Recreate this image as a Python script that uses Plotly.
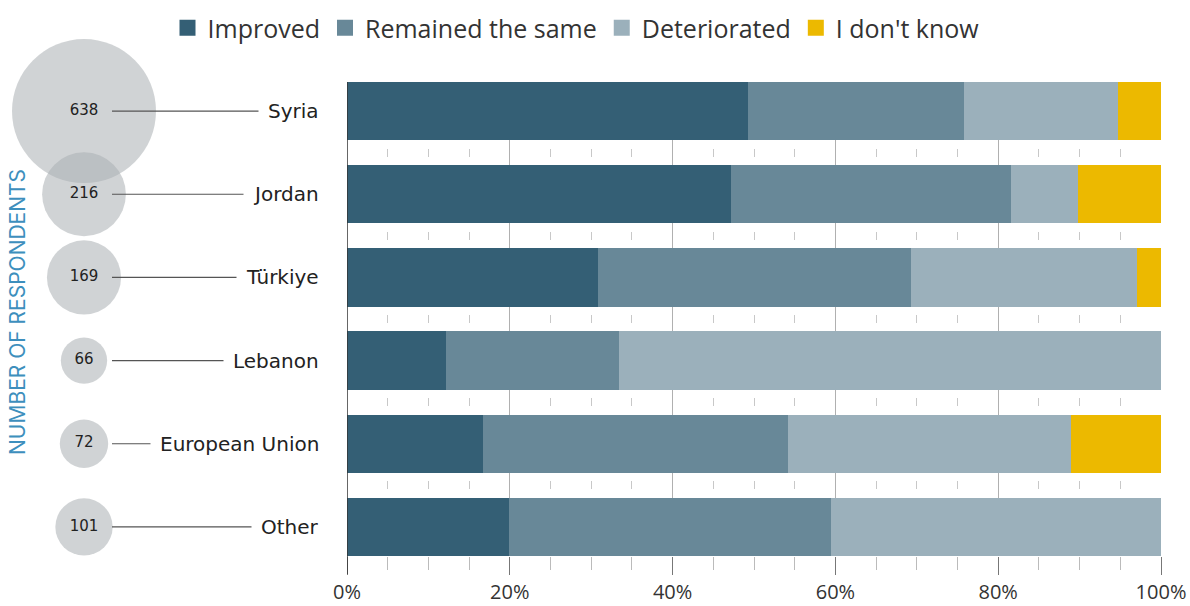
import plotly.graph_objects as go

countries = ["Syria", "Jordan", "Türkiye", "Lebanon", "European Union", "Other"]
respondents = [638, 216, 169, 66, 72, 101]
improved = [49.3, 47.2, 30.8, 12.2, 16.7, 19.9]
remained = [26.5, 34.4, 38.5, 21.2, 37.5, 39.6]
deteriorated = [18.9, 8.2, 27.8, 66.6, 34.7, 40.5]
dont_know = [5.3, 10.2, 2.9, 0.0, 11.1, 0.0]
tick_vals = [0, 20, 40, 60, 80, 100]
tick_text = ["0%", "20%", "40%", "60%", "80%", "100%"]

series = [
    ("Improved", improved, "#345f75"),
    ("Remained the same", remained, "#688898"),
    ("Deteriorated", deteriorated, "#9bb0bb"),
    ("I don't know", dont_know, "#ecb900"),
]

W, H = 1190, 606
plot_left_px = 347
plot_w = 1161
plot_top, plot_bottom = 82, 556
plot_h = plot_bottom - plot_top

fig = go.Figure()
for name, vals, col in series:
    fig.add_trace(go.Bar(
        x=vals, y=countries, orientation="h", name=name, legendgroup=name,
        marker=dict(color=col, line=dict(width=0)), width=0.7,
        xaxis="x", yaxis="y", hoverinfo="x+y+name", showlegend=False,
    ))
# legend entries (square swatches)
for name, vals, col in series:
    fig.add_trace(go.Scatter(
        x=[None], y=[None], mode="markers", name=name, legendgroup=name,
        marker=dict(symbol="square", size=22, color=col),
        xaxis="x", yaxis="y", showlegend=True, hoverinfo="skip",
    ))

bubble_cx = 84
fig.add_trace(go.Scatter(
    x=[bubble_cx] * len(countries), y=countries, mode="markers+text",
    text=[str(v) for v in respondents], textposition="middle center",
    textfont=dict(family="DejaVu Sans, sans-serif", size=15, color="#222"),
    marker=dict(size=respondents, sizemode="area", sizeref=2 / 32.5,
                color="rgba(172,176,180,0.8)", line=dict(width=0)),
    xaxis="x2", yaxis="y", showlegend=False, hoverinfo="skip", cliponaxis=False,
))

annotations = []
for c in countries:
    annotations.append(dict(
        x=bubble_cx + 28, y=c, xref="x2", yref="y",
        text=c, showarrow=True, arrowhead=0, arrowwidth=1.2, arrowcolor="#555",
        axref="pixel", ayref="pixel", ax=208, ay=0, xanchor="right",
        startstandoff=9, borderpad=0,
        font=dict(family="DejaVu Sans, sans-serif", size=20, color="#222"),
    ))
annotations.append(dict(
    x=17 / plot_w, y=(plot_bottom - 312) / plot_h, xref="paper", yref="paper",
    text="NUMBER OF RESPONDENTS",
    showarrow=False, textangle=-90, xanchor="center", yanchor="middle",
    font=dict(family="Inter, Noto Sans, sans-serif", size=21, color="#3d8fbd"),
))

fig.update_layout(
    width=W, height=H, barmode="stack", bargap=0.3,
    plot_bgcolor="white", paper_bgcolor="white",
    margin=dict(l=0, r=W - plot_w, t=plot_top, b=H - plot_bottom, autoexpand=False),
    font=dict(family="Open Sans, sans-serif", color="#333"),
    legend=dict(orientation="h", x=576 / plot_w, xanchor="center",
                y=(plot_bottom - 28) / plot_h, yanchor="middle",
                font=dict(family="Open Sans, sans-serif", size=25, color="#333"),
                itemwidth=30, traceorder="normal", bgcolor="rgba(0,0,0,0)",
                itemsizing="trace"),
    xaxis=dict(domain=[plot_left_px / plot_w, 1], range=[0, 100], tickvals=tick_vals,
               ticktext=tick_text, showgrid=True, gridcolor="#b0b0b0", gridwidth=1,
               ticks="outside", ticklen=18, tickcolor="#777", tickwidth=1,
               tickfont=dict(family="Open Sans, sans-serif", size=20, color="#333"),
               zeroline=False, showline=False,
               minor=dict(dtick=5, tick0=0, showgrid=True, gridcolor="#c8c8c8", gridwidth=1,
                          griddash="0px,66.7px,8px,8.46px",
                          ticks="outside", ticklen=13, tickcolor="#bbb", tickwidth=1),
               fixedrange=True),
    xaxis2=dict(domain=[0, plot_left_px / plot_w], range=[0, plot_left_px], visible=False,
                anchor="y", fixedrange=True),
    yaxis=dict(type="category", categoryarray=countries, range=[5.35, -0.35],
               showticklabels=False, ticks="", showgrid=False, zeroline=False,
               showline=False, fixedrange=True),
    annotations=annotations,
    shapes=[dict(type="line", xref="x", yref="paper", x0=0, x1=0, y0=-18 / plot_h, y1=1,
                 line=dict(color="#333", width=1.5), layer="above")],
)

fig.write_html("out.html", config={"displayModeBar": False},
               post_script="document.body.style.margin='0px';")
